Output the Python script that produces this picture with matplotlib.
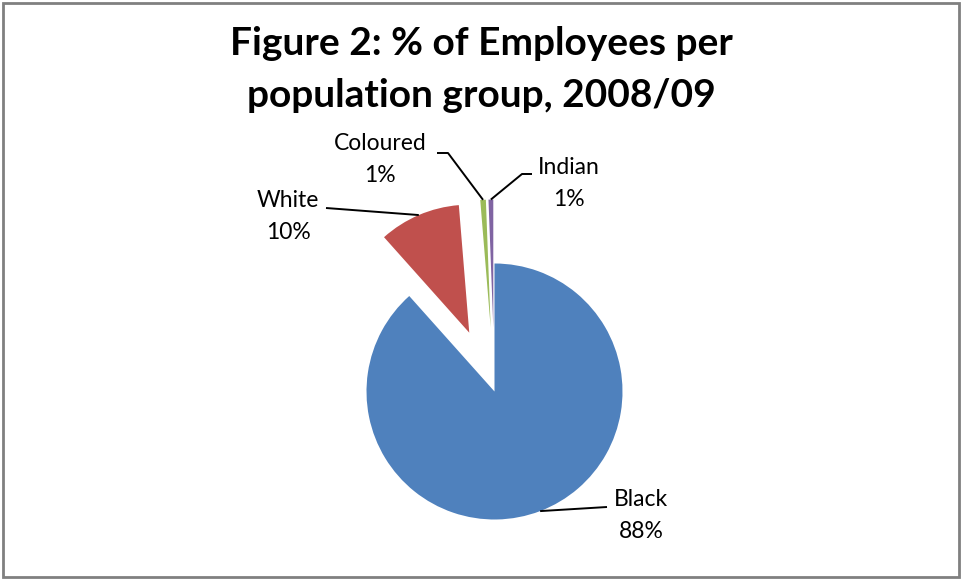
import numpy as np
import matplotlib
matplotlib.use("Agg")
import matplotlib.pyplot as plt
from matplotlib.patches import Rectangle

# ── data ─────────────────────────────────────────────────────────────────────
groups = ["Black", "White", "Coloured", "Indian"]
shares = [88.4, 10.3, 0.7, 0.6]          # % of employees, 2008/09
title_lines = ["Figure 2: % of Employees per", "population group, 2008/09"]

# ── style / layout (pixel units, y measured from the top) ───────────────────
COLOURS = ["#4F81BD", "#C0504D", "#9BBB59", "#8064A2"]
W, H = 963, 579
CX, CY, R = 494.5, 391.5, 128
EXPLODE = [0.0, 0.5, 0.5, 0.5]           # fraction of the radius
FONT = "Lato"

# label: text centre x, first baseline y, leader start, optional elbow
LABELS = {
    "Black":    dict(x=641, y=506, start=(607, 507), elbow=None),
    "White":    dict(x=288, y=207, start=(326, 208), elbow=None),
    "Coloured": dict(x=380, y=150, start=(437, 153), elbow=(448, 153)),
    "Indian":   dict(x=569, y=174, start=(532, 174), elbow=(522, 174)),
}
LINE_GAP = 32


def fy(y):
    return H - y


fig = plt.figure(figsize=(W / 100, H / 100), dpi=100)
fig.patch.set_facecolor("white")
ax = fig.add_axes([0, 0, 1, 1])

wedges, _ = ax.pie(shares, colors=COLOURS, startangle=90, counterclock=False,
                   center=(CX, fy(CY)), radius=R,
                   explode=[e * R for e in EXPLODE],
                   wedgeprops=dict(linewidth=0), frame=True)
ax.axis("off")
ax.set_xlim(0, W)
ax.set_ylim(0, H)
ax.set_aspect("equal")

for w, name, val in zip(wedges, groups, shares):
    lay = LABELS[name]
    ax.text(lay["x"], fy(lay["y"]), name, ha="center", va="baseline",
            fontsize=16.5, family=FONT, color="black")
    ax.text(lay["x"], fy(lay["y"] + LINE_GAP), f"{val:.0f}%", ha="center",
            va="baseline", fontsize=16.5, family=FONT, color="black")
    # leader line to the middle of the wedge's outer arc
    tm = np.radians((w.theta1 + w.theta2) / 2)
    px = w.center[0] + w.r * np.cos(tm)
    py = w.center[1] + w.r * np.sin(tm)
    pts = [lay["start"]] + ([lay["elbow"]] if lay["elbow"] else [])
    xs = [p[0] for p in pts] + [px]
    ys = [fy(p[1]) for p in pts] + [py]
    ax.plot(xs, ys, color="black", lw=1.4, solid_capstyle="butt")

# title
for i, line in enumerate(title_lines):
    fig.text(481 / W, 1 - (55 + 52 * i) / H, line, ha="center", va="baseline",
             fontsize=28, fontweight="bold", family=FONT, color="black")

# chart border
fig.patches.append(Rectangle((3 / W, 2 / H), 956 / W, 574 / H,
                             transform=fig.transFigure, fill=False,
                             edgecolor="#808080", linewidth=2))

fig.savefig("out.png", dpi=100, facecolor="white")
